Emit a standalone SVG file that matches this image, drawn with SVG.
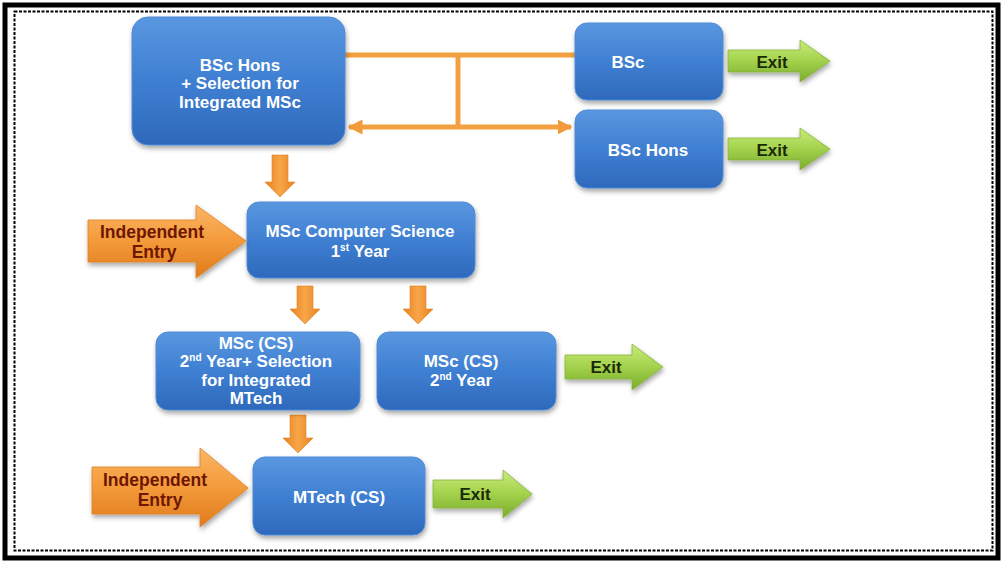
<svg xmlns="http://www.w3.org/2000/svg" width="1003" height="565" viewBox="0 0 1003 565">
<defs>
<linearGradient id="blue" x1="0" y1="0" x2="0" y2="1">
<stop offset="0" stop-color="#5a97e0"/>
<stop offset="0.5" stop-color="#3f7fd2"/>
<stop offset="1" stop-color="#2e69bb"/>
</linearGradient>
<linearGradient id="orange" x1="0" y1="0" x2="0" y2="1">
<stop offset="0" stop-color="#fbb565"/>
<stop offset="0.5" stop-color="#f39a3a"/>
<stop offset="1" stop-color="#e07a1c"/>
</linearGradient>
<linearGradient id="orangeH" x1="0" y1="0" x2="1" y2="0">
<stop offset="0" stop-color="#e9821f"/>
<stop offset="0.5" stop-color="#f7a649"/>
<stop offset="1" stop-color="#e9821f"/>
</linearGradient>
<linearGradient id="green" x1="0" y1="0" x2="0" y2="1">
<stop offset="0" stop-color="#c9ec7c"/>
<stop offset="0.5" stop-color="#a3d14c"/>
<stop offset="1" stop-color="#79ab2c"/>
</linearGradient>
<filter id="sh" x="-10%" y="-10%" width="125%" height="130%">
<feDropShadow dx="1" dy="3" stdDeviation="2.5" flood-color="#000" flood-opacity="0.35"/>
</filter>
<marker id="ah" viewBox="0 0 10 10" refX="9" refY="5" markerWidth="3" markerHeight="3" orient="auto-start-reverse">
<path d="M0 0 L10 5 L0 10 Z" fill="#f29a3c"/>
</marker>
</defs>
<style>
.box{fill:url(#blue);stroke:#4f8ad6;stroke-width:1;filter:url(#sh)}
.t{font-family:"Liberation Sans",Arial,sans-serif;font-weight:bold;font-size:17px;fill:#ffffff;text-anchor:middle}
.ex{fill:url(#green);stroke:#86b23a;stroke-width:0.8;filter:url(#sh)}
.et{font-family:"Liberation Sans",Arial,sans-serif;font-weight:bold;font-size:17px;fill:#1a2a05;text-anchor:middle}
.ie{fill:url(#orange);stroke:#e08020;stroke-width:0.8;filter:url(#sh)}
.it{font-family:"Liberation Sans",Arial,sans-serif;font-weight:bold;font-size:17.5px;fill:#6e1600;text-anchor:middle}
.da{fill:url(#orangeH);stroke:#e08020;stroke-width:0.6}
.ln{stroke:#f2a040;stroke-width:5;fill:none}
.sup{font-size:10px}
</style>
<rect x="0" y="0" width="1003" height="565" fill="#ffffff"/>
<rect x="5" y="5" width="993" height="553" fill="none" stroke="#000" stroke-width="5"/>
<rect x="14.5" y="11.5" width="978" height="539" fill="none" stroke="#000" stroke-width="2" stroke-dasharray="3 1.5"/>

<g id="connectors">
<path class="ln" d="M345 55 H575"/>
<path class="ln" d="M458 55 V125"/>
<path class="ln" d="M349 127 H571" marker-start="url(#ah)" marker-end="url(#ah)"/>
<path class="da" d="M272 155 H288 V182 H295 L280 197 L265 182 H272 Z"/>
<path class="da" d="M297 286 H313 V309 H320 L305 324 L290 309 H297 Z"/>
<path class="da" d="M410 286 H426 V309 H433 L418 324 L403 309 H410 Z"/>
<path class="da" d="M290 415 H306 V438 H313 L298 453 L283 438 H290 Z"/>
</g>

<g id="n-bsc-hons-sel">
<rect class="box" x="132" y="17" width="213" height="128" rx="16"/>
<text class="t" x="240" y="71">BSc Hons</text>
<text class="t" x="240" y="89">+ Selection for</text>
<text class="t" x="240" y="108">Integrated MSc</text>
</g>

<g id="n-bsc">
<rect class="box" x="575" y="23" width="148" height="77" rx="12"/>
<text class="t" x="628" y="68">BSc</text>
</g>

<g id="n-bsc-hons">
<rect class="box" x="575" y="110" width="148" height="78" rx="12"/>
<text class="t" x="648" y="156">BSc Hons</text>
</g>

<g id="exit1">
<path class="ex" d="M728 50 H800 V40 L830 61 L800 82 V72 H728 Z"/>
<text class="et" x="772" y="68">Exit</text>
</g>

<g id="exit2">
<path class="ex" d="M728 138 H800 V128 L830 149 L800 170 V160 H728 Z"/>
<text class="et" x="772" y="156">Exit</text>
</g>

<g id="n-msc1">
<rect class="box" x="247" y="202" width="228" height="76" rx="12"/>
<text class="t" x="360" y="237">MSc Computer Science</text>
<text class="t" x="360" y="257">1<tspan class="sup" dy="-6">st</tspan><tspan dy="6"> Year</tspan></text>
</g>

<g id="ie1">
<path class="ie" d="M88 220 H196 V205 L246 241 L196 278 V262 H88 Z"/>
<text class="it" x="152" y="238">Independent</text>
<text class="it" x="154" y="258">Entry</text>
</g>

<g id="n-msc2-sel">
<rect class="box" x="156" y="332" width="204" height="78" rx="12"/>
<text class="t" x="256" y="349">MSc (CS)</text>
<text class="t" x="256" y="367">2<tspan class="sup" dy="-6">nd</tspan><tspan dy="6"> Year+ Selection</tspan></text>
<text class="t" x="256" y="386">for Integrated</text>
<text class="t" x="256" y="404">MTech</text>
</g>

<g id="n-msc2">
<rect class="box" x="377" y="332" width="179" height="78" rx="12"/>
<text class="t" x="461" y="367">MSc (CS)</text>
<text class="t" x="461" y="386">2<tspan class="sup" dy="-6">nd</tspan><tspan dy="6"> Year</tspan></text>
</g>

<g id="exit3">
<path class="ex" d="M565 355 H632 V344 L663 367 L632 390 V379 H565 Z"/>
<text class="et" x="606" y="373">Exit</text>
</g>

<g id="n-mtech">
<rect class="box" x="253" y="457" width="172" height="78" rx="12"/>
<text class="t" x="339" y="503">MTech (CS)</text>
</g>

<g id="ie2">
<path class="ie" d="M92 467 H200 V448 L248 488 L200 527 V514 H92 Z"/>
<text class="it" x="155" y="486">Independent</text>
<text class="it" x="160" y="506">Entry</text>
</g>

<g id="exit4">
<path class="ex" d="M433 480 H503 V470 L532 494 L503 518 V508 H433 Z"/>
<text class="et" x="475" y="500">Exit</text>
</g>
</svg>
